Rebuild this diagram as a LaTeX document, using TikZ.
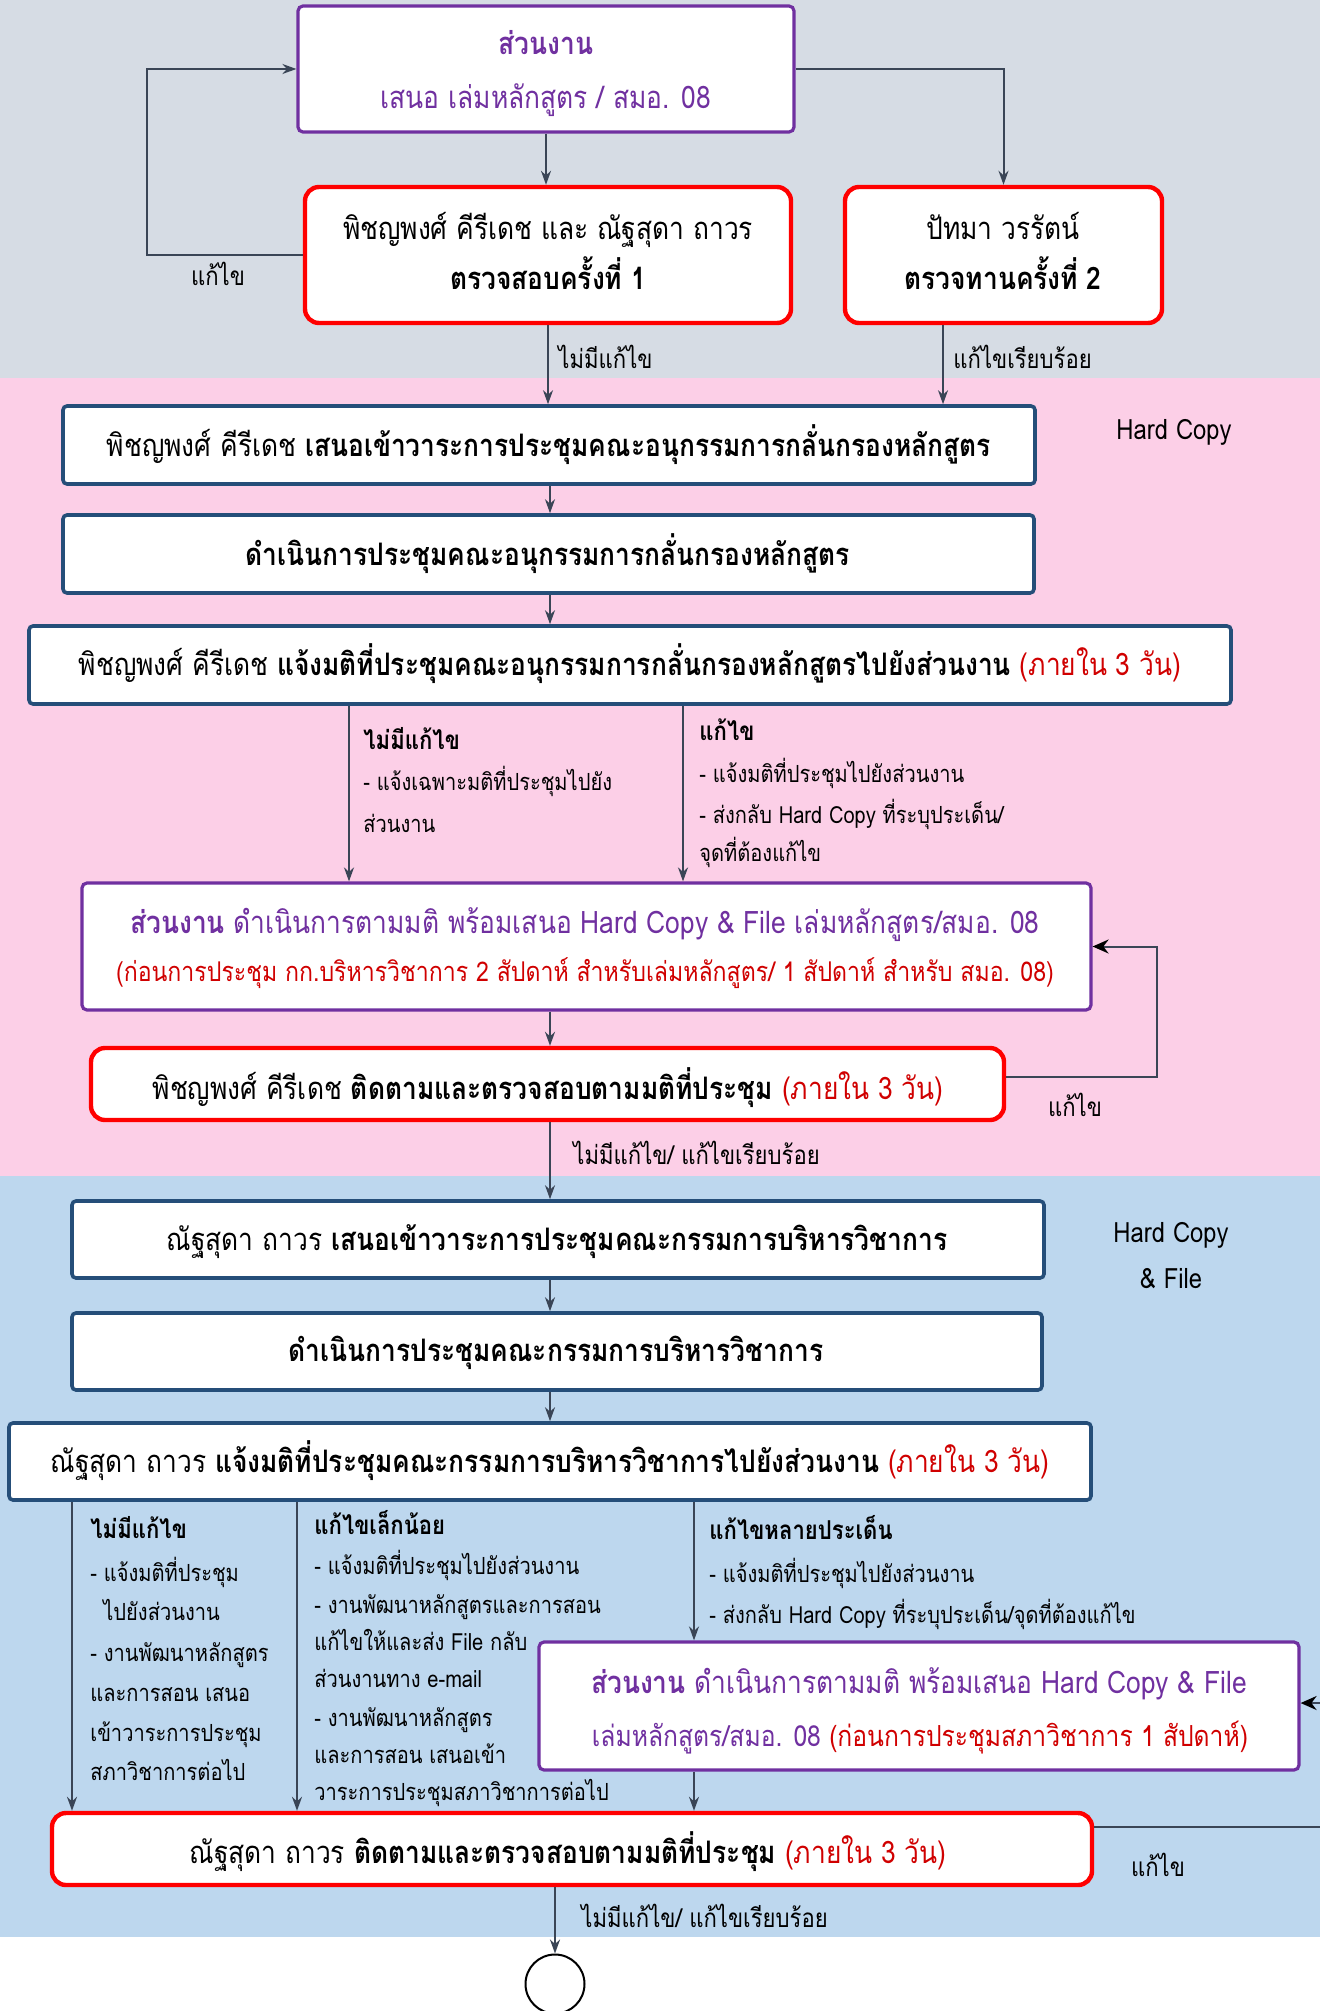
\documentclass[tikz,border=0pt]{standalone}
\usepackage{fontspec}
\setmainfont{Loma}[Script=Thai, FakeStretch=0.85]
\usetikzlibrary{arrows.meta, fit}
\definecolor{bggray}{HTML}{D6DCE4}
\definecolor{bgpink}{HTML}{FCCFE7}
\definecolor{bgblue}{HTML}{BDD7EE}
\definecolor{cpurple}{HTML}{7030A0}
\definecolor{cred}{HTML}{FF0000}
\definecolor{tred}{HTML}{D00000}
\definecolor{cnavy}{HTML}{254E79}
\definecolor{cline}{HTML}{3A4556}
\tikzset{
  boxbase/.style={fill=white, inner sep=0pt},
  pbox/.style={boxbase, draw=cpurple, line width=1.6pt, rounded corners=2.5pt},
  rbox/.style={boxbase, draw=cred, line width=2.2pt, rounded corners=7pt},
  nbox/.style={boxbase, draw=cnavy, line width=1.8pt, rounded corners=2pt},
  btxt/.style={inner sep=0pt, anchor=base, font=\fontsize{15.5}{19}\selectfont},
  conn/.style={draw=cline, line width=1pt, -{Stealth[length=7pt,width=5pt]}},
  conntwo/.style={draw=cline, line width=1pt, -{Stealth[length=8pt,width=7pt,black]}},
  plainline/.style={draw=cline, line width=1pt},
  lbl/.style={inner sep=0pt, anchor=base west, font=\fontsize{13}{16}\selectfont},
  hl/.style={inner sep=0pt, anchor=base west, font=\fontsize{13}{16}\selectfont\bfseries},
  bl/.style={inner sep=0pt, anchor=base west, font=\fontsize{11.8}{14}\selectfont},
}
\begin{document}
\begin{tikzpicture}[x=0.5pt,y=-0.5pt]
% backgrounds
\fill[bggray] (0,0) rectangle (1320,378);
\fill[bgpink] (0,378) rectangle (1320,1176);
\fill[bgblue] (0,1176) rectangle (1320,1937);
\fill[white] (0,1937) rectangle (1320,2011);
\useasboundingbox (0,0) rectangle (1320,2011);

\coordinate (axisone) at (550,0);

% ---------- boxes ----------
\node[pbox, fit={(298,6) (794,132)}] (b1) {};
\node[rbox, fit={(305,187) (791,323)}] (b2) {};
\node[rbox, fit={(845,187) (1162,323)}] (b3) {};
\node[nbox, fit={(63,406) (1035,484)}] (b4) {};
\node[nbox, fit={(63,515) (1034,593)}] (b5) {};
\node[nbox, fit={(29,626) (1231,704)}] (b6) {};
\node[pbox, fit={(82,883) (1091,1010)}] (b7) {};
\node[rbox, fit={(91,1048) (1004,1120)}] (b8) {};
\node[nbox, fit={(72,1201) (1044,1278)}] (b9) {};
\node[nbox, fit={(72,1313) (1042,1390)}] (b10) {};
\node[nbox, fit={(9,1423) (1091,1500)}] (b11) {};
\node[pbox, fit={(539,1642) (1299,1770)}] (b13) {};
\node[rbox, fit={(52,1813) (1092,1885)}] (b12) {};
\node[draw=black, line width=1pt, fill=white, circle, minimum size=29.5pt, inner sep=0pt] (endc) at (555,1984) {};

% ---------- box texts ----------
\node[btxt, text=cpurple, font=\fontsize{15.5}{19}\selectfont\bfseries] (t1a) at (546,55) {ส่วนงาน};
\node[btxt, text=cpurple] (t1b) at (546,109) {เสนอ เล่มหลักสูตร / สมอ. 08};
\node[btxt] (t2a) at (548,240) {พิชญพงศ์ คีรีเดช และ ณัฐสุดา ถาวร};
\node[btxt, font=\fontsize{15.5}{19}\selectfont\bfseries] (t2b) at (548,290) {ตรวจสอบครั้งที่ 1};
\node[btxt] (t3a) at (1003,240) {ปัทมา วรรัตน์};
\node[btxt, font=\fontsize{15.5}{19}\selectfont\bfseries] (t3b) at (1003,290) {ตรวจทานครั้งที่ 2};
\node[btxt] (t4) at (549,456) {พิชญพงศ์ คีรีเดช {\bfseries เสนอเข้าวาระการประชุมคณะอนุกรรมการกลั่นกรองหลักสูตร}};
\node[btxt, font=\fontsize{15.5}{19}\selectfont\bfseries] (t5) at (548,565) {ดำเนินการประชุมคณะอนุกรรมการกลั่นกรองหลักสูตร};
\node[btxt] (t6) at (630,675) {พิชญพงศ์ คีรีเดช {\bfseries แจ้งมติที่ประชุมคณะอนุกรรมการกลั่นกรองหลักสูตรไปยังส่วนงาน} {\color{tred}(ภายใน 3 วัน)}};
\node[btxt, text=cpurple] (t7a) at (585,933) {{\bfseries ส่วนงาน} ดำเนินการตามมติ พร้อมเสนอ Hard Copy \& File เล่มหลักสูตร/สมอ. 08};
\node[btxt, text=tred, font=\fontsize{13.6}{17}\selectfont] (t7b) at (585,981) {(ก่อนการประชุม กก.บริหารวิชาการ 2 สัปดาห์ สำหรับเล่มหลักสูตร/ 1 สัปดาห์ สำหรับ สมอ. 08)};
\node[btxt] (t8) at (548,1099) {พิชญพงศ์ คีรีเดช {\bfseries ติดตามและตรวจสอบตามมติที่ประชุม} {\color{tred}(ภายใน 3 วัน)}};
\node[btxt] (t9) at (557,1250) {ณัฐสุดา ถาวร {\bfseries เสนอเข้าวาระการประชุมคณะกรรมการบริหารวิชาการ}};
\node[btxt, font=\fontsize{15.5}{19}\selectfont\bfseries] (t10) at (556,1361) {ดำเนินการประชุมคณะกรรมการบริหารวิชาการ};
\node[btxt] (t11) at (550,1472) {ณัฐสุดา ถาวร {\bfseries แจ้งมติที่ประชุมคณะกรรมการบริหารวิชาการไปยังส่วนงาน} {\color{tred}(ภายใน 3 วัน)}};
\node[btxt, text=cpurple] (t13a) at (919,1693) {{\bfseries ส่วนงาน} ดำเนินการตามมติ พร้อมเสนอ Hard Copy \& File};
\node[btxt, text=cpurple, font=\fontsize{14.5}{18}\selectfont] (t13b) at (920,1746) {เล่มหลักสูตร/สมอ. 08 {\color{tred}(ก่อนการประชุมสภาวิชาการ 1 สัปดาห์)}};
\node[btxt] (t12) at (568,1863) {ณัฐสุดา ถาวร {\bfseries ติดตามและตรวจสอบตามมติที่ประชุม} {\color{tred}(ภายใน 3 วัน)}};

% ---------- connectors top ----------
\draw[conn] (b1.south) -- (b1.south |- b2.north);
\draw[conn] (b1.east) -| (b3.north);
\coordinate (fbone) at (147,255);
\draw[conn] (b2.west) -- (fbone) |- (b1.west);
\node[lbl, anchor=base] (l1) at (218,286) {แก้ไข};
\draw[conn] (b2.south) -- (b2.south |- b4.north);
\node[lbl] (l2) at (558,369) {ไม่มีแก้ไข};
\coordinate (colr) at (943,0);
\draw[conn] (b3.south -| colr) -- (b4.north -| colr);
\node[lbl] (l3) at (953,369) {แก้ไขเรียบร้อย};

% ---------- pink section ----------
\node[lbl, anchor=base, font=\fontsize{14}{17}\selectfont] (hc1) at (1174,439) {Hard Copy};
\draw[conn] (b4.south -| axisone) -- (b5.north -| axisone);
\draw[conn] (b5.south -| axisone) -- (b6.north -| axisone);
\coordinate (cola) at (349,0);
\coordinate (colb) at (683,0);
\draw[conn] (b6.south -| cola) -- (b7.north -| cola);
\draw[conn] (b6.south -| colb) -- (b7.north -| colb);
\node[hl] (l4a) at (363,749) {ไม่มีแก้ไข};
\node[bl] (l4b) at (363,790) {- แจ้งเฉพาะมติที่ประชุมไปยัง};
\node[bl] (l4c) at (363,832) {ส่วนงาน};
\node[hl] (l5a) at (699,740) {แก้ไข};
\node[bl] (l5b) at (699,782) {- แจ้งมติที่ประชุมไปยังส่วนงาน};
\node[bl] (l5c) at (699,823) {- ส่งกลับ Hard Copy ที่ระบุประเด็น/};
\node[bl] (l5d) at (699,861) {จุดที่ต้องแก้ไข};
\draw[conn] (b7.south -| axisone) -- (b8.north -| axisone);
\coordinate (fbtwo) at (1157,1077);
\draw[conntwo] (b8.east |- fbtwo) -- (fbtwo) |- (b7.east);
\node[lbl, anchor=base] (l6) at (1075,1116) {แก้ไข};
\draw[conn] (b8.south -| axisone) -- (b9.north -| axisone);
\node[lbl] (l7) at (573,1164) {ไม่มีแก้ไข/ แก้ไขเรียบร้อย};

% ---------- blue section ----------
\node[lbl, anchor=base, font=\fontsize{14}{17}\selectfont] (hc2) at (1171,1242) {Hard Copy};
\node[lbl, anchor=base, font=\fontsize{14}{17}\selectfont] (hc3) at (1171,1288) {\& File};
\draw[conn] (b9.south -| axisone) -- (b10.north -| axisone);
\draw[conn] (b10.south -| axisone) -- (b11.north -| axisone);
\coordinate (colc) at (72,0);
\coordinate (cold) at (297,0);
\coordinate (cole) at (694,0);
\draw[conn] (b11.south -| colc) -- (b12.north -| colc);
\draw[conn] (b11.south -| cold) -- (b12.north -| cold);
\draw[conn] (b11.south -| cole) -- (b13.north -| cole);
\draw[conn] (b13.south -| cole) -- (b12.north -| cole);
% column 1
\node[hl] (l8a) at (90,1538) {ไม่มีแก้ไข};
\node[bl] (l8b) at (90,1581) {- แจ้งมติที่ประชุม};
\node[bl] (l8c) at (103,1620) {ไปยังส่วนงาน};
\node[bl] (l8d) at (90,1661) {- งานพัฒนาหลักสูตร};
\node[bl] (l8e) at (90,1701) {และการสอน เสนอ};
\node[bl] (l8f) at (90,1741) {เข้าวาระการประชุม};
\node[bl] (l8g) at (90,1780) {สภาวิชาการต่อไป};
% column 2
\node[hl] (l9a) at (314,1534) {แก้ไขเล็กน้อย};
\node[bl] (l9b) at (314,1574) {- แจ้งมติที่ประชุมไปยังส่วนงาน};
\node[bl] (l9c) at (314,1613) {- งานพัฒนาหลักสูตรและการสอน};
\node[bl] (l9d) at (314,1650) {แก้ไขให้และส่ง File กลับ};
\node[bl] (l9e) at (314,1687) {ส่วนงานทาง e-mail};
\node[bl] (l9f) at (314,1726) {- งานพัฒนาหลักสูตร};
\node[bl] (l9g) at (314,1763) {และการสอน เสนอเข้า};
\node[bl] (l9h) at (314,1800) {วาระการประชุมสภาวิชาการต่อไป};
% column 3
\node[hl] (l10a) at (709,1539) {แก้ไขหลายประเด็น};
\node[bl] (l10b) at (709,1582) {- แจ้งมติที่ประชุมไปยังส่วนงาน};
\node[bl] (l10c) at (709,1623) {- ส่งกลับ Hard Copy ที่ระบุประเด็น/จุดที่ต้องแก้ไข};
% loop of the last step (leaves the picture on the right)
\coordinate (fbthreein) at (1320,1703);
\coordinate (fbthreeout) at (1320,1827);
\draw[conntwo] (fbthreein) -- (b13.east |- fbthreein);
\draw[plainline] (b12.east |- fbthreeout) -- (fbthreeout);
\node[lbl, anchor=base] (l11) at (1158,1876) {แก้ไข};
\coordinate (axistwo) at (555,0);
\draw[conn] (b12.south -| axistwo) -- (endc.north);
\node[lbl] (l12) at (581,1927) {ไม่มีแก้ไข/ แก้ไขเรียบร้อย};
\end{tikzpicture}
\end{document}
